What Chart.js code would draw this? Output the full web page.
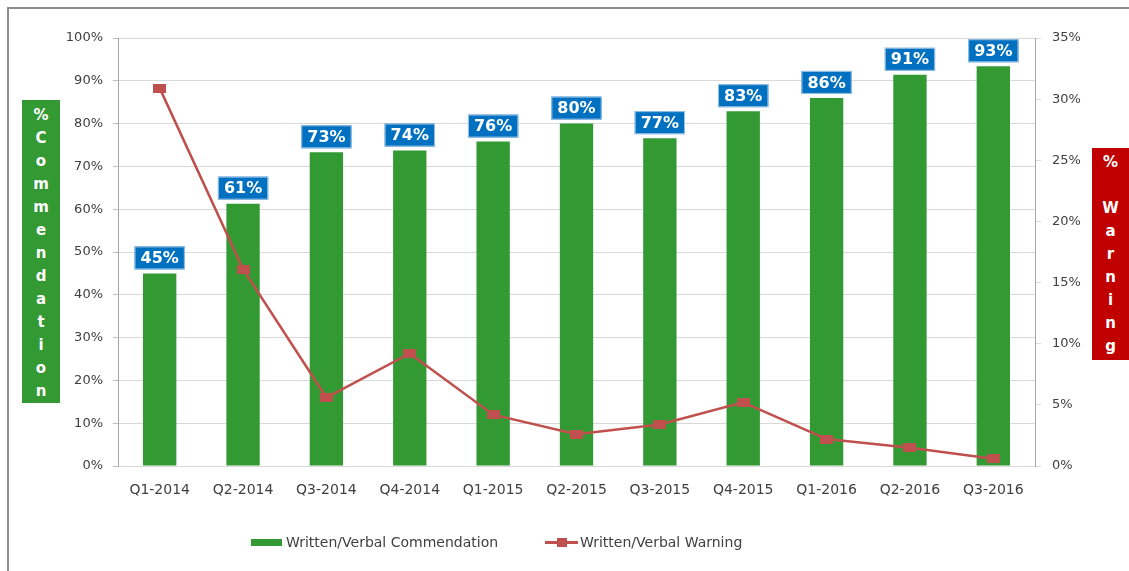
<!DOCTYPE html>
<html>
<head>
<meta charset="utf-8">
<script src="https://cdn.jsdelivr.net/npm/chart.js@4.4.1/dist/chart.umd.min.js"></script>
<style>
    body { margin: 0; background: #fff; font-family: "DejaVu Sans", sans-serif; }
    #wrap { position: relative; width: 1129px; height: 571px; overflow: hidden; }
    #frame { position: absolute; left: 7px; top: 7px; right: -4px; bottom: -4px; border: 2px solid #8c8c8c; }
    #chartBox { position: absolute; left: 0; top: 0; width: 1129px; height: 571px; }
    .axisTitle { position: absolute; color: #fff; font-weight: bold; font-size: 15px; line-height: 23px; text-align: center; white-space: pre; }
    #leftTitle { left: 22px; top: 100px; width: 38px; height: 303px; background: #339933; padding-top: 4px; box-sizing: border-box; }
    #rightTitle { left: 1092px; top: 148px; width: 37px; height: 212px; background: #c00000; padding-top: 3px; box-sizing: border-box; }
    .legend { position: absolute; top: 534px; font-size: 14px; color: #404040; height: 16px; line-height: 16px; }
    .legend span { position: absolute; white-space: nowrap; }
</style>
</head>
<body>
<div id="wrap">
    <div id="frame"></div>
    <div id="chartBox"><canvas id="qChart"></canvas></div>
    <div class="axisTitle" id="leftTitle"></div>
    <div class="axisTitle" id="rightTitle"></div>
    <div class="legend" style="left:251px;">
        <span style="left:0; top:5px; width:31px; height:7px; background:#339933;"></span>
        <span style="left:35px; top:0;">Written/Verbal Commendation</span>
    </div>
    <div class="legend" style="left:545px;">
        <span style="left:0; top:7px; width:33px; height:3px; background:#c0504d;"></span>
        <span style="left:12px; top:4px; width:10px; height:9px; background:#c0504d;"></span>
        <span style="left:35px; top:0;">Written/Verbal Warning</span>
    </div>
</div>

<script>
// Chart Data
const quarters = ['Q1-2014', 'Q2-2014', 'Q3-2014', 'Q4-2014', 'Q1-2015', 'Q2-2015',
                  'Q3-2015', 'Q4-2015', 'Q1-2016', 'Q2-2016', 'Q3-2016'];
const commendation = [45, 61.3, 73.3, 73.7, 75.8, 80, 76.6, 82.9, 86, 91.4, 93.4];
const warning = [30.9, 16.1, 5.6, 9.2, 4.2, 2.6, 3.4, 5.2, 2.2, 1.5, 0.6];
const leftTicks = [0, 10, 20, 30, 40, 50, 60, 70, 80, 90, 100];
const rightTicks = [0, 5, 10, 15, 20, 25, 30, 35];

// Axis title boxes (letters stacked)
document.getElementById('leftTitle').textContent = '%\nC\no\nm\nm\ne\nn\nd\na\nt\ni\no\nn';
document.getElementById('rightTitle').textContent = '%\n\nW\na\nr\nn\ni\nn\ng';

// Rectangular marker like the Excel original
const marker = document.createElement('canvas');
marker.width = 13;
marker.height = 9;
const mctx = marker.getContext('2d');
mctx.fillStyle = '#c0504d';
mctx.fillRect(0, 0, 13, 9);

// Blue value labels over the bars
const barLabels = {
    id: 'barLabels',
    afterDatasetsDraw(chart) {
        const ctx = chart.ctx;
        const meta = chart.getDatasetMeta(1);
        ctx.save();
        ctx.font = 'bold 16px "DejaVu Sans"';
        ctx.textAlign = 'center';
        ctx.textBaseline = 'middle';
        meta.data.forEach((bar, i) => {
            const txt = Math.round(commendation[i]) + '%';
            const w = ctx.measureText(txt).width + 12;
            const h = 23;
            const x = bar.x - w / 2;
            const y = bar.y - 4 - h;
            ctx.fillStyle = '#0070c0';
            ctx.fillRect(x, y, w, h);
            ctx.strokeStyle = '#9dc3e6';
            ctx.lineWidth = 1;
            ctx.strokeRect(x + 0.5, y + 0.5, w - 1, h - 1);
            ctx.fillStyle = '#ffffff';
            ctx.fillText(txt, bar.x, y + h / 2 + 1);
        });
        ctx.restore();
    }
};

const tickFont = { family: 'DejaVu Sans', size: 13 };

new Chart(document.getElementById('qChart'), {
    data: {
        labels: quarters,
        datasets: [
            {
                type: 'line',
                label: 'Written/Verbal Warning',
                data: warning,
                yAxisID: 'y1',
                borderColor: '#c0504d',
                borderWidth: 2.5,
                pointStyle: marker,
                pointRadius: 6,
                tension: 0,
                order: 0
            },
            {
                type: 'bar',
                label: 'Written/Verbal Commendation',
                data: commendation,
                yAxisID: 'y',
                backgroundColor: '#339933',
                barPercentage: 0.4,
                categoryPercentage: 1,
                order: 1
            }
        ]
    },
    options: {
        responsive: true,
        maintainAspectRatio: false,
        animation: false,
        layout: { padding: { top: 38, left: 0, right: 0, bottom: 0 } },
        plugins: {
            legend: { display: false },
            tooltip: { enabled: false }
        },
        scales: {
            x: {
                grid: { display: false },
                border: { color: '#d9d9d9', width: 1 },
                ticks: { font: { family: 'DejaVu Sans', size: 14 }, color: '#404040', padding: 8, maxRotation: 0 },
                afterFit(scale) { scale.height = 105; }
            },
            y: {
                position: 'left',
                min: 0,
                max: 100,
                afterBuildTicks(scale) { scale.ticks = leftTicks.map(v => ({ value: v })); },
                ticks: { font: tickFont, color: '#404040', padding: 10, callback: v => v + '%' },
                grid: { color: '#d9d9d9', tickLength: 5, tickColor: '#bfbfbf' },
                border: { color: '#a6a6a6' },
                afterFit(scale) { scale.width = 118; }
            },
            y1: {
                position: 'right',
                min: 0,
                max: 35,
                afterBuildTicks(scale) { scale.ticks = rightTicks.map(v => ({ value: v })); },
                ticks: { font: tickFont, color: '#404040', padding: 11, callback: v => v + '%' },
                grid: { drawOnChartArea: false, tickLength: 6, color: '#d9d9d9' },
                border: { color: '#a6a6a6' },
                afterFit(scale) { scale.width = 94; }
            }
        }
    },
    plugins: [barLabels]
});
</script>
</body>
</html>
